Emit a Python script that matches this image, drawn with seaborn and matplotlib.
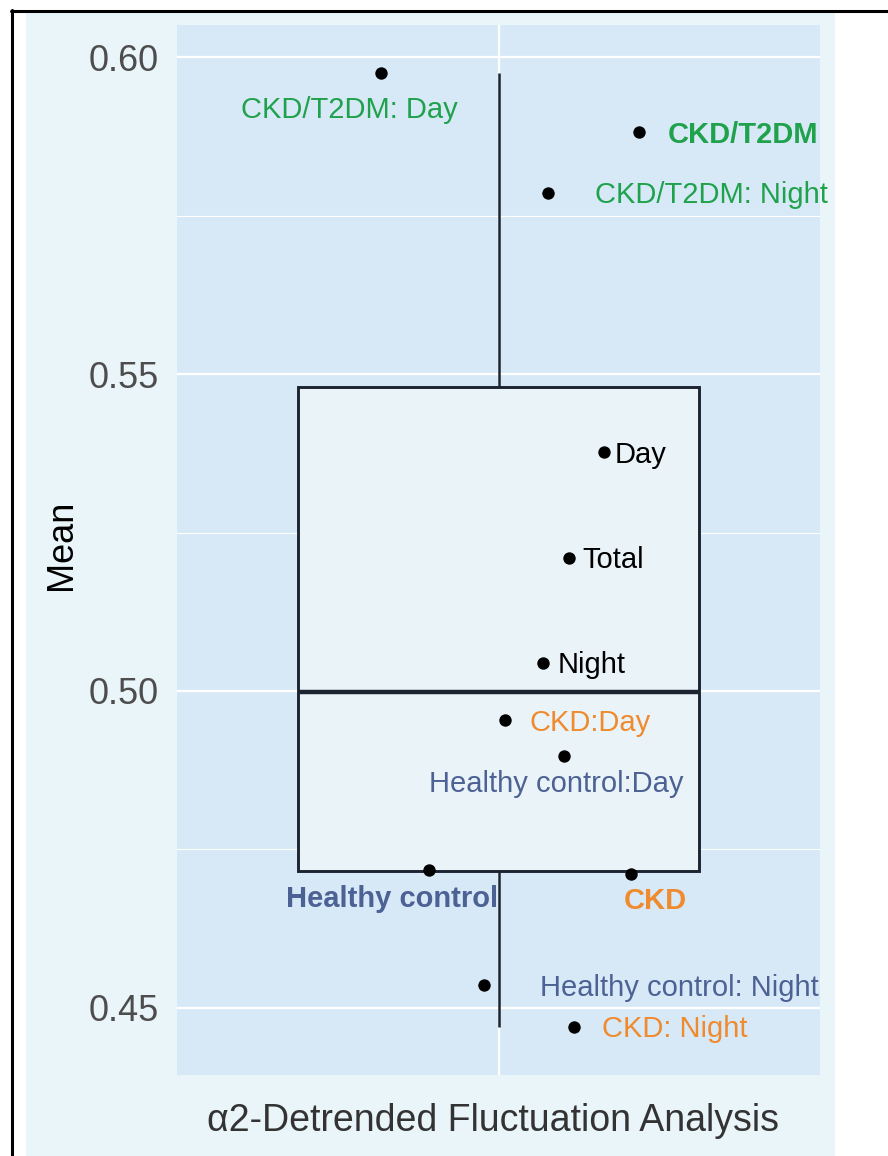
import matplotlib
matplotlib.use("Agg")
import matplotlib.pyplot as plt
from matplotlib.patches import Rectangle
from matplotlib.lines import Line2D
from matplotlib.ticker import FixedLocator
import seaborn as sns
import pandas as pd

# ---- data ----
labels = ["CKD/T2DM: Day", "CKD/T2DM", "CKD/T2DM: Night", "Day", "Total", "Night",
          "CKD:Day", "Healthy control:Day", "Healthy control", "CKD",
          "Healthy control: Night", "CKD: Night"]
means = [0.5975, 0.5882, 0.5785, 0.5377, 0.5210, 0.5044,
         0.4954, 0.4897, 0.4718, 0.4711, 0.4536, 0.4470]
groups = ["CKD/T2DM", "CKD/T2DM", "CKD/T2DM", "All", "All", "All",
          "CKD", "Healthy control", "Healthy control", "CKD",
          "Healthy control", "CKD"]
bold = [False, True, False, False, False, False,
        False, False, True, True, False, False]
# horizontal jitter of points (category units)
jitter = [-0.219, 0.262, 0.092, 0.197, 0.132, 0.083,
          0.012, 0.122, -0.130, 0.247, -0.027, 0.141]
# repelled label anchors (left edge, baseline)
label_x = [-0.481, 0.316, 0.180, 0.217, 0.156, 0.111,
           0.057, -0.130, -0.397, 0.234, 0.077, 0.193]
label_y = [0.5904, 0.5864, 0.5769, 0.5359, 0.5194, 0.5028,
           0.4937, 0.4840, 0.4659, 0.4656, 0.4519, 0.4454]
yticks = [0.45, 0.50, 0.55, 0.60]
ytick_labels = ["0.45", "0.50", "0.55", "0.60"]
x_title = "α2-Detrended Fluctuation Analysis"
y_title = "Mean"

group_colors = {"CKD/T2DM": "#20A24D", "All": "#000000",
                "CKD": "#F08A2E", "Healthy control": "#4C6194"}

df = pd.DataFrame({"label": labels, "mean": means, "group": groups,
                   "bold": bold, "jit": jitter})

sns.set_style("white")
plt.rcParams["font.family"] = ["Liberation Sans", "DejaVu Sans"]

W, H = 888, 1156
fig = plt.figure(figsize=(W / 100, H / 100), dpi=100)
fig.patch.set_facecolor("white")

# outer light background + frame lines
fig.add_artist(Rectangle((26 / W, 0), (835 - 26) / W, (H - 11) / H,
                         transform=fig.transFigure, facecolor="#EAF5F9",
                         edgecolor="none", zorder=-10))
fig.add_artist(Line2D([11 / W, 1], [1 - 10.5 / H] * 2, transform=fig.transFigure,
                      color="black", lw=2.2))
fig.add_artist(Line2D([12 / W] * 2, [0, 1 - 10 / H], transform=fig.transFigure,
                      color="black", lw=2.2))

ax = fig.add_axes([177 / W, 81 / H, 643 / W, 1050 / H])
ax.set_facecolor("#D7E9F7")
ax.set_axisbelow(True)

sns.boxplot(data=df, y="mean", ax=ax, width=0.75, color="#EAF4F8", saturation=1,
            linecolor="#1C2431", linewidth=2.1, showcaps=False, fliersize=0,
            medianprops=dict(linewidth=3.2, color="#1C2431"),
            whiskerprops=dict(linewidth=1.8, color="#1C2431"))

sns.scatterplot(data=df, x="jit", y="mean", ax=ax, color="black", s=80,
                linewidth=0, legend=False, zorder=4)

for lx, ly, lab, g, b in zip(label_x, label_y, labels, groups, bold):
    ax.text(lx, ly, lab, color=group_colors[g], fontsize=21,
            fontweight="bold" if b else "normal", ha="left", va="baseline",
            clip_on=False, zorder=5)

ax.set_xlim(-0.6, 0.6)
ax.set_ylim(0.43943, 0.60505)
ax.set_xticks([0])
ax.set_xticklabels([""])
ax.set_yticks(yticks)
ax.set_yticklabels(ytick_labels)
ax.yaxis.set_minor_locator(FixedLocator([0.475, 0.525, 0.575]))
ax.grid(which="major", color="white", lw=1.6)
ax.grid(which="minor", axis="y", color="white", lw=0.8)
ax.tick_params(axis="both", which="major", length=5, width=1.5, color="#333333",
               pad=8, labelsize=26, labelcolor="#4D4D4D")
ax.tick_params(which="minor", length=0)
for s in ax.spines.values():
    s.set_visible(False)
ax.set_xlabel("")
ax.set_ylabel("")

fig.text(62 / W, 1 - 545 / H, y_title, rotation=90, ha="center", va="center",
         fontsize=26, color="black")
fig.text(493 / W, 1 - 1131 / H, x_title, ha="center", va="baseline",
         fontsize=27, color="#333333")

fig.savefig("out.png", dpi=100)
